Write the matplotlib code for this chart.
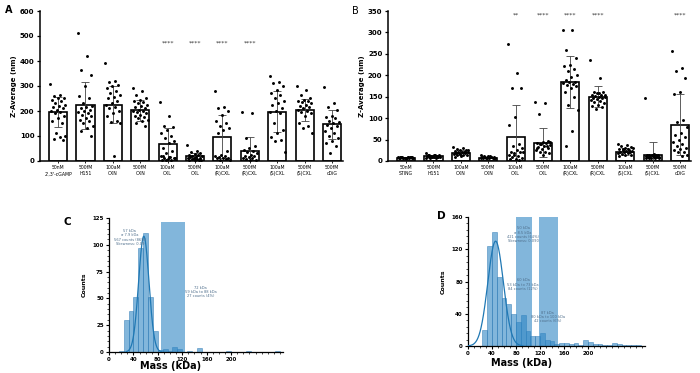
import numpy as np
import matplotlib
matplotlib.use("Agg")
import matplotlib.pyplot as plt
from matplotlib.ticker import MultipleLocator

# ---------------- data ----------------
a_labels = ["50nM\n2',3'-cGAMP", "500fM\nH151", "100aM\nCXN", "500fM\nCXN", "100aM\nCXL",
            "500fM\nCXL", "100aM\n(R)CXL", "500fM\n(R)CXL", "100aM\n(S)CXL", "500fM\n(S)CXL",
            "500fM\ncDiG"]
a_means = [195, 222, 225, 202, 68, 20, 97, 40, 196, 204, 147]
a_sd = [60, 95, 75, 42, 65, 13, 85, 55, 82, 44, 58]
a_points = [
    [308, 262, 258, 252, 250, 245, 240, 232, 225, 220, 215, 210, 205, 200, 195, 190, 180, 170, 160, 150, 110, 100, 95, 88, 85],
    [510, 418, 362, 345, 300, 260, 250, 230, 220, 215, 210, 205, 200, 195, 190, 185, 180, 170, 165, 160, 150, 140, 130, 120, 100],
    [392, 320, 315, 305, 300, 290, 280, 270, 262, 255, 250, 240, 230, 222, 215, 210, 200, 190, 180, 160, 155, 150, 20],
    [290, 280, 265, 250, 245, 240, 235, 230, 225, 220, 215, 210, 205, 200, 200, 195, 190, 185, 180, 175, 170, 165, 160, 150, 140],
    [237, 180, 140, 135, 125, 110, 100, 90, 80, 70, 50, 40, 30, 20, 15, 12, 10, 8, 5, 5, 3, 10, 15, 20],
    [65, 40, 35, 30, 28, 25, 22, 20, 18, 15, 15, 12, 10, 10, 8, 8, 5, 5, 3, 2],
    [278, 215, 210, 200, 185, 160, 150, 140, 130, 125, 110, 40, 25, 20, 18, 15, 12, 10, 10, 8, 5, 5],
    [195, 193, 90, 60, 50, 45, 40, 35, 30, 25, 20, 18, 15, 12, 10, 8, 5, 5],
    [338, 315, 310, 300, 285, 270, 262, 250, 240, 230, 222, 210, 200, 195, 190, 150, 125, 110, 95, 85, 80, 35],
    [298, 285, 262, 250, 245, 240, 238, 235, 230, 225, 220, 215, 210, 205, 200, 195, 190, 180, 150, 140, 130, 110],
    [297, 230, 215, 205, 180, 175, 170, 160, 155, 150, 145, 140, 130, 120, 110, 100, 90, 80, 70, 60, 30],
]
a_sig = ["", "", "", "", "****", "****", "****", "****", "", "", ""]

b_labels = ["50nM\nSTING", "500fM\nH151", "100aM\nCXN", "500fM\nCXN", "100aM\nCXL",
            "500fM\nCXL", "100aM\n(R)CXL", "500fM\n(R)CXL", "100aM\n(S)CXL", "500fM\n(S)CXL",
            "500fM\ncDiG"]
b_means = [8, 11, 19, 8, 55, 43, 185, 150, 22, 15, 85]
b_sd = [1.5, 3, 6, 2, 75, 34, 61, 25, 8, 30, 72]
b_points = [
    [10, 10, 9, 9, 8, 8, 8, 7, 7, 7, 9, 10, 8, 8, 9, 6, 7, 8, 9, 10],
    [18, 15, 14, 13, 12, 12, 11, 11, 10, 10, 10, 9, 9, 8, 8, 7, 12, 13, 14, 10],
    [33, 30, 28, 26, 25, 24, 22, 21, 20, 20, 19, 18, 17, 16, 15, 14, 13, 12, 10, 22, 18, 25],
    [14, 12, 11, 10, 10, 9, 9, 8, 8, 8, 7, 7, 6, 6, 10, 9, 8, 11],
    [273, 205, 170, 170, 103, 83, 40, 35, 30, 25, 22, 20, 18, 15, 12, 10, 8, 5, 5, 3, 15, 20],
    [137, 135, 110, 47, 45, 43, 42, 40, 38, 35, 33, 30, 28, 25, 22, 20, 18, 15, 30, 35, 40, 45],
    [305, 305, 260, 240, 225, 222, 215, 210, 200, 195, 190, 185, 185, 183, 180, 178, 175, 170, 160, 150, 130, 118, 70, 35],
    [235, 193, 162, 160, 158, 155, 153, 152, 150, 150, 148, 146, 145, 143, 140, 138, 135, 130, 128, 125, 122, 155, 158],
    [40, 38, 35, 33, 30, 28, 27, 25, 24, 23, 22, 21, 20, 19, 18, 17, 15, 14, 12, 25, 28, 30],
    [148, 16, 15, 14, 13, 12, 12, 11, 10, 10, 9, 9, 8, 8, 7, 7, 6, 12, 14, 15],
    [256, 218, 210, 193, 160, 157, 95, 92, 80, 65, 60, 55, 48, 45, 40, 35, 30, 28, 25, 22, 20, 15, 12],
]
b_sig = ["", "", "", "", "**", "****", "****", "****", "", "", "****"]

hist_bin_width = 8
c_bin_left = [16, 24, 32, 40, 48, 56, 64, 72, 80, 88, 96, 104, 112, 120, 128, 136, 144, 152,
              192, 224, 272]
c_counts = [1, 30, 38, 51, 97, 111, 51, 20, 2, 3, 1, 5, 3, 0, 1, 0, 4, 0, 1, 1, 1]
c_fit = dict(mu=57, sigma=8.5, amp=108)
c_regions = [(85, 125, 121)]

d_bin_left = [24, 32, 40, 48, 56, 64, 72, 80, 88, 96, 104, 112, 120, 128, 136, 144, 152, 160,
              168, 176, 184, 192, 200, 208, 216, 224, 232, 240, 248, 256, 264, 272, 280]
d_counts = [20, 124, 141, 85, 60, 52, 40, 30, 38, 18, 13, 12, 16, 8, 6, 3, 4, 4,
            2, 4, 1, 7, 5, 3, 2, 1, 1, 4, 2, 1, 1, 1, 1]
d_fit = dict(mu=46, sigma=13, amp=130)
d_regions = [(80, 107, 160), (118, 150, 160)]

# ---------------- figure ----------------
fig = plt.figure(figsize=(7.0, 3.73), dpi=100)
W, H = 700, 373

def add_ax(left, top, right, bottom):
    return fig.add_axes([left / W, (H - bottom) / H, (right - left) / W, (bottom - top) / H])

def jitter(n):
    return np.array([(((i * 0.6180339) % 1.0) - 0.5) * 0.56 for i in range(n)])

def bar_panel(ax, labels, means, sd, points, sig, ymax, ystep, sig_y):
    x = np.arange(len(labels))
    ax.bar(x, means, width=0.66, color="white", edgecolor="black", linewidth=1.2, zorder=2)
    ax.errorbar(x, means, yerr=sd, fmt="none", ecolor="#444444", elinewidth=0.6,
                capsize=2.6, capthick=0.6, zorder=3)
    for i, pts in enumerate(points):
        pts = np.asarray(pts, dtype=float)
        ax.scatter(i + jitter(len(pts)), pts, s=4.5, color="black", zorder=4, linewidths=0)
    for i, s in enumerate(sig):
        if s:
            ax.text(i, sig_y, s, ha="center", va="center", fontsize=4.5, color="#333333")
    ax.set_xlim(-0.66, 10.4)
    ax.set_ylim(0, ymax)
    ax.yaxis.set_major_locator(MultipleLocator(ystep))
    ax.set_xticks(x)
    ax.set_xticklabels(labels, fontsize=3.3, linespacing=1.3)
    for lab in ax.get_yticklabels():
        lab.set_fontweight("bold")
        lab.set_fontsize(5)
    ax.tick_params(axis="y", length=2.5, width=0.9, pad=1.5)
    ax.tick_params(axis="x", length=1.5, width=0.6, pad=1.5)
    for s in ("top", "right"):
        ax.spines[s].set_visible(False)
    for s in ("left", "bottom"):
        ax.spines[s].set_linewidth(1.1)
    ax.set_ylabel("Z-Average (nm)", fontsize=5, fontweight="bold", labelpad=2)

axA = add_ax(40, 11, 343, 161)
bar_panel(axA, a_labels, a_means, a_sd, a_points, a_sig, 600, 100, 470)
axB = add_ax(388, 11, 691, 161)
bar_panel(axB, b_labels, b_means, b_sd, b_points, b_sig, 350, 50, 340)

fill_c = "#2f86c4"

def hist_panel(ax, bins, counts, fit, regions, ymax, ystep, xmax, notes):
    ax.bar(bins, counts, width=hist_bin_width, align="edge", color=fill_c, alpha=0.6,
           edgecolor="#1f6fae", linewidth=0.5, zorder=2)
    for (x0, x1, top) in regions:
        ax.bar(x0, top, width=x1 - x0, align="edge", color=fill_c, alpha=0.6,
               linewidth=0, zorder=2)
    xs = np.linspace(0, 200, 600)
    ys = fit["amp"] * np.exp(-0.5 * ((xs - fit["mu"]) / fit["sigma"]) ** 2)
    m = ys > 0.3
    ax.plot(xs[m], ys[m], color="#1f78b4", lw=0.9, zorder=3)
    for (tx, ty, t) in notes:
        ax.text(tx, ty, t, ha="center", va="center", fontsize=2.6, color="#4f6f8c",
                linespacing=1.15, zorder=4)
    ax.set_xlim(0, xmax)
    ax.set_ylim(0, ymax)
    ax.set_xticks([0, 40, 80, 120, 160, 200])
    ax.xaxis.set_minor_locator(MultipleLocator(10))
    ax.yaxis.set_major_locator(MultipleLocator(ystep))
    ax.yaxis.set_minor_locator(MultipleLocator(ystep / 5))
    ax.tick_params(axis="both", which="major", length=2.2, width=0.8, pad=1.5, labelsize=4)
    ax.tick_params(axis="both", which="minor", length=1.2, width=0.5)
    for lab in ax.get_xticklabels() + ax.get_yticklabels():
        lab.set_fontweight("bold")
    for s in ("top", "right"):
        ax.spines[s].set_visible(False)
    for s in ("left", "bottom"):
        ax.spines[s].set_linewidth(0.9)
    ax.set_ylabel("Counts", fontsize=4.5, fontweight="bold", labelpad=4)
    ax.set_xlabel("Mass (kDa)", fontsize=7, fontweight="bold")
    ax.xaxis.label.set_va("center")

axC = add_ax(109, 218, 283, 352)
hist_panel(axC, c_bin_left, c_counts, c_fit, c_regions, 125, 25, 285,
           [(34, 107, "57 kDa\nσ 7.9 kDa\n567 counts (86%)\nSkewness: 0.09"),
            (150, 56, "72 kDa\n59 kDa to 88 kDa\n27 counts (4%)")])
axC.xaxis.set_label_coords((171 - 109) / 174, -(366 - 352) / 134)

axD = add_ax(468, 217, 645, 346)
hist_panel(axD, d_bin_left, d_counts, d_fit, d_regions, 160, 40, 295,
           [(92, 138, "50 kDa\nσ 8.5 kDa\n421 counts (64%)\nSkewness: 0.090"),
            (92, 76, "60 kDa\n53 kDa to 73 kDa\n84 counts (12%)"),
            (133, 36, "87 kDa\n80 kDa to 100 kDa\n42 counts (6%)")])
axD.xaxis.set_label_coords((522 - 468) / 177, -(363 - 346) / 129)

fig.text(5 / W, 1 - 10 / H, "A", fontsize=7, fontweight="bold", va="center", ha="left")
fig.text(352 / W, 1 - 11 / H, "B", fontsize=7, va="center", ha="left")
fig.text(63 / W, 1 - 222 / H, "C", fontsize=7.5, fontweight="bold", va="center", ha="left")
fig.text(437 / W, 1 - 216 / H, "D", fontsize=7.5, fontweight="bold", va="center", ha="left")

fig.savefig("out.png", dpi=100, facecolor="white")
